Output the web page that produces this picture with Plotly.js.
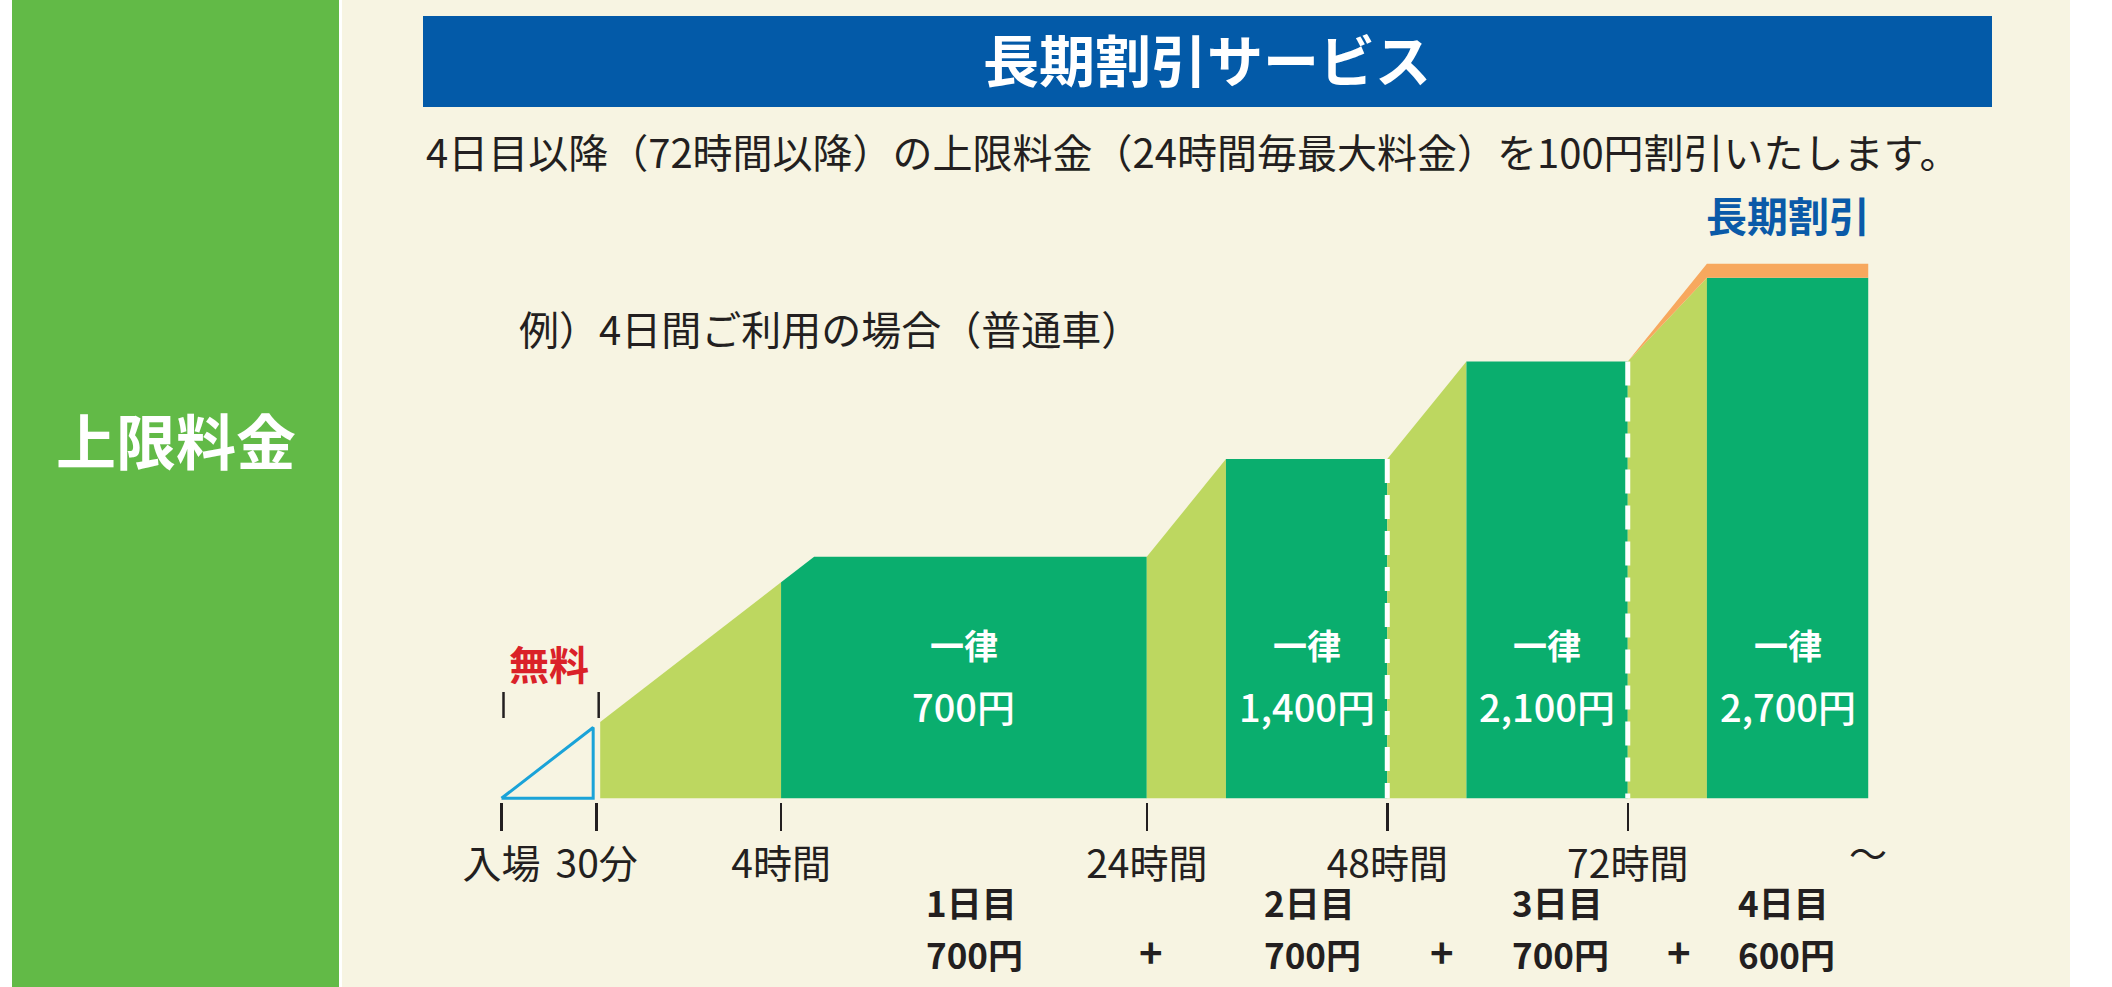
<!DOCTYPE html>
<html>
<head>
<meta charset="utf-8">
<script src="https://cdn.plot.ly/plotly-3.0.1.min.js"></script>
<style>
html,body{margin:0;padding:0;background:#fff;}
#chart{width:2112px;height:987px;}
</style>
</head>
<body>
<div id="chart"></div>
<script>
// ---------- data ----------
const tickLabels = ['入場', '30分', '4時間', '24時間', '48時間', '72時間'];
const tickPos = [0, 9.5, 27.9, 64.4, 88.4, 112.4];   // schematic (not-to-scale) time axis
const endPos = 136.4;                                 // "～"
const dayCaps = [700, 1400, 2100, 2700];              // cumulative cap after each day (yen)
const regularDayFee = 700;
const dayNames = ['1日目', '2日目', '3日目', '4日目'];
const dayFees = [700, 700, 700, 600];
const capReachPos = 31.2;   // schematic point where day-1 fee reaches its cap
const rampWidth = 7.9;      // schematic width of the daily ramp

// ---------- layout constants ----------
const W = 2112, H = 987;
const baselinePx = 798.3, originPx = 501.5, pxPerUnit = 10.02, pxPerYen = 0.13956;
const floorFee = -1030.7;   // value at the drawn baseline (schematic offset)
const FONT = "'Noto Sans CJK JP', 'Noto Sans', sans-serif";
const C = {
  cream: '#f7f4e2', panel: '#62ba47', blue: '#035aa8', dark: '#0aae6e',
  light: '#bdd760', orange: '#f7a85e', red: '#da2128', tri: '#1aa3d8', ink: '#231f20'
};
const fx = p => p / W;
const fy = p => 1 - p / H;

const F = floorFee;
const lineFee = x => F + (dayCaps[0] - F) * x / capReachPos;
const h4 = tickPos[2];
const bounds = [tickPos[3], tickPos[4], tickPos[5]];
const gap = 0.35;

function poly(xs, ys, color) {
  return {x: xs, y: ys, type: 'scatter', mode: 'lines', fill: 'toself', fillcolor: color,
          line: {width: 0, color: color}, hoverinfo: 'skip', showlegend: false};
}

const traces = [];
// free triangle
const fEdge = tickPos[1] - gap;
traces.push({x: [tickPos[0], fEdge, fEdge, tickPos[0]], y: [F, F, lineFee(fEdge), F],
  type: 'scatter', mode: 'lines', line: {color: C.tri, width: 3}, hoverinfo: 'skip', showlegend: false});
// day 1
const xs0 = tickPos[1] + gap;
traces.push(poly([xs0, xs0, h4, h4], [F, lineFee(xs0), lineFee(h4), F], C.light));
traces.push(poly([h4, h4, capReachPos, bounds[0], bounds[0]], [F, lineFee(h4), dayCaps[0], dayCaps[0], F], C.dark));
const blockCenters = [(h4 + bounds[0]) / 2];
for (let i = 1; i < dayCaps.length; i++) {
  const b = bounds[i - 1];
  const next = i < bounds.length ? bounds[i] : endPos;
  traces.push(poly([b, b, b + rampWidth, b + rampWidth], [F, dayCaps[i - 1], dayCaps[i], F], C.light));
  traces.push(poly([b + rampWidth, b + rampWidth, next, next], [F, dayCaps[i], dayCaps[i], F], C.dark));
  blockCenters.push((b + rampWidth + next) / 2);
}
// discount band
const fullCap = dayCaps[2] + regularDayFee;
const b3 = bounds[2];
traces.push(poly([b3, b3 + rampWidth, endPos, endPos, b3 + rampWidth, b3],
  [dayCaps[2], fullCap, fullCap, dayCaps[3], dayCaps[3], dayCaps[2]], C.orange));
// dashed day separators
[1, 2].forEach(i => {
  traces.push({x: [bounds[i], bounds[i]], y: [dayCaps[i], F], type: 'scatter', mode: 'lines',
    line: {color: '#ffffff', width: 5, dash: '24px,12px'}, hoverinfo: 'skip', showlegend: false});
});

const fmt = v => v.toLocaleString('en-US') + '円';

const ann = [];
function A(o) { ann.push(Object.assign({showarrow: false, xanchor: 'center', yanchor: 'middle'}, o)); }
// panel & headings
A({xref: 'paper', yref: 'paper', x: fx(176), y: fy(439), text: '上限料金',
   font: {family: FONT, size: 60, color: '#fff', weight: 700}});
A({xref: 'paper', yref: 'paper', x: fx(1207), y: fy(58), text: '長期割引サービス',
   font: {family: FONT, size: 56, color: '#fff', weight: 700}});
A({xref: 'paper', yref: 'paper', x: fx(424), y: fy(151), xanchor: 'left',
   text: '4日目以降（72時間以降）の上限料金（24時間毎最大料金）を100円割引いたします。',
   font: {family: FONT, size: 40, color: C.ink}});
A({xref: 'paper', yref: 'paper', x: fx(517), y: fy(328), xanchor: 'left',
   text: '例）4日間ご利用の場合（普通車）', font: {family: FONT, size: 40, color: C.ink}});
A({xref: 'x', yref: 'paper', x: blockCenters[3], y: fy(214), text: '長期割引',
   font: {family: FONT, size: 41, color: '#0a5aa8', weight: 700}});
A({xref: 'x', yref: 'paper', x: (tickPos[0] + tickPos[1]) / 2, y: fy(663), text: '無料',
   font: {family: FONT, size: 40, color: C.red, weight: 700}});
// block labels
blockCenters.forEach((cx, i) => {
  A({xref: 'x', yref: 'paper', x: cx, y: fy(644), text: '一律', font: {family: FONT, size: 34, color: '#fff', weight: 700}});
  A({xref: 'x', yref: 'paper', x: cx, y: fy(705), text: fmt(dayCaps[i]), font: {family: FONT, size: 38, color: '#fff', weight: 500}});
});
// end tilde
A({xref: 'x', yref: 'paper', x: endPos, y: fy(851), text: '～', font: {family: FONT, size: 38, color: C.ink}});
// day breakdown (two rows per day, left aligned)
const dayLabelX = [42.2, 75.9, 100.6, 123.2];
const plusX = [64.8, 93.9, 117.5];
dayNames.forEach((d, i) => {
  A({xref: 'x', yref: 'paper', x: dayLabelX[i], y: fy(901), xanchor: 'left', text: d,
     font: {family: FONT, size: 35, color: C.ink, weight: 700}});
  A({xref: 'x', yref: 'paper', x: dayLabelX[i], y: fy(953), xanchor: 'left', text: fmt(dayFees[i]),
     font: {family: FONT, size: 35, color: C.ink, weight: 700}});
});
plusX.forEach(px => A({xref: 'x', yref: 'paper', x: px, y: fy(951), text: '+',
   font: {family: FONT, size: 40, color: C.ink, weight: 700}}));

const shapes = [
  {type: 'rect', xref: 'paper', yref: 'paper', x0: fx(12), x1: fx(339), y0: 0, y1: 1, fillcolor: C.panel, line: {width: 0}, layer: 'below'},
  {type: 'rect', xref: 'paper', yref: 'paper', x0: fx(342), x1: fx(2070), y0: 0, y1: 1, fillcolor: C.cream, line: {width: 0}, layer: 'below'},
  {type: 'rect', xref: 'paper', yref: 'paper', x0: fx(423), x1: fx(1992), y0: fy(107), y1: fy(16), fillcolor: C.blue, line: {width: 0}, layer: 'below'}
];
// "free" bracket ticks
[tickPos[0], tickPos[1]].forEach(t => shapes.push({type: 'line', xref: 'x', yref: 'paper', x0: t + 0.2, x1: t + 0.2,
  y0: fy(692), y1: fy(718), line: {color: C.ink, width: 2.5}}));

const layout = {
  width: W, height: H, margin: {l: 0, r: 0, t: 0, b: 0},
  paper_bgcolor: '#ffffff', plot_bgcolor: 'rgba(0,0,0,0)', showlegend: false,
  xaxis: {range: [-originPx / pxPerUnit, (W - originPx) / pxPerUnit], anchor: 'free', position: fy(802),
    tickmode: 'array', tickvals: tickPos, ticktext: tickLabels, ticks: 'outside', ticklen: 28, tickwidth: 2.5,
    tickcolor: C.ink, showgrid: false, zeroline: false, showline: false, fixedrange: true,
    tickfont: {family: FONT, size: 39, color: C.ink}},
  yaxis: {range: [F - (H - baselinePx) / pxPerYen, F + baselinePx / pxPerYen], visible: false, fixedrange: true},
  shapes: shapes, annotations: ann
};
Plotly.newPlot('chart', traces, layout, {staticPlot: true, displayModeBar: false});
</script>
</body>
</html>
